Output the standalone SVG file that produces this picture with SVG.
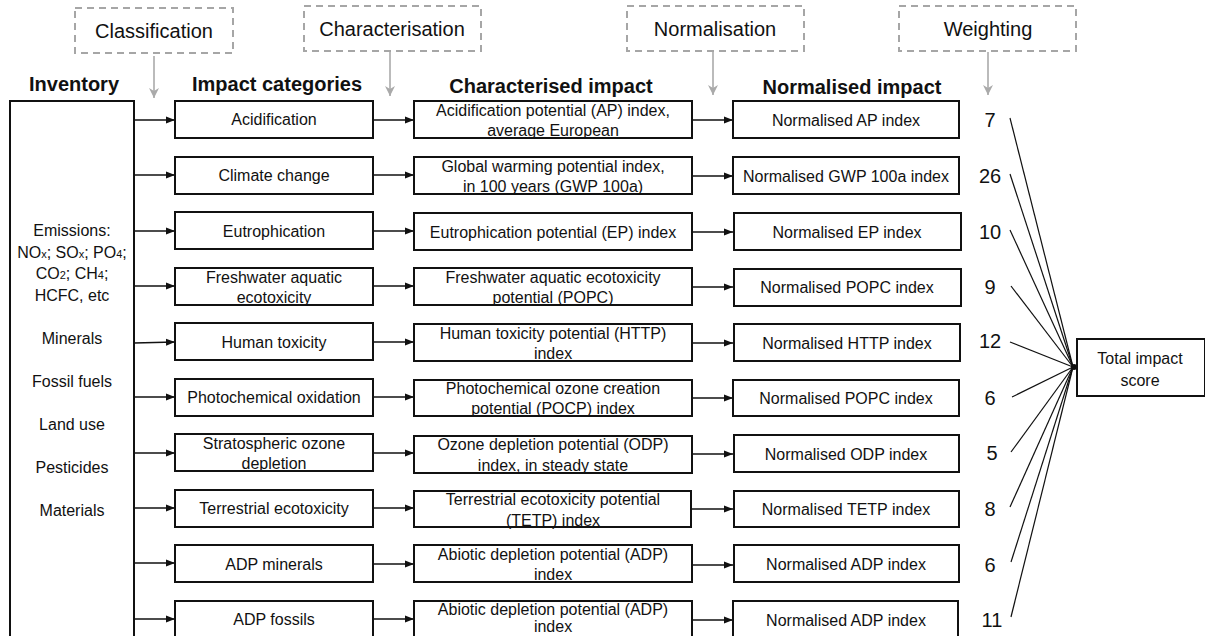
<svg xmlns="http://www.w3.org/2000/svg" width="1205" height="636" viewBox="0 0 1205 636">
<style>
text{font-family:"Liberation Sans",Arial,sans-serif;fill:#111;text-anchor:middle}
.t{font-size:16px}
.h{font-size:20px;font-weight:bold}
.s{font-size:20px}
.n{font-size:20px}
.box{fill:#fff;stroke:#111;stroke-width:2}
.dash{fill:none;stroke:#a6a6a6;stroke-width:2;stroke-dasharray:7 5}
.c{stroke:#111;stroke-width:1.4;fill:none}
.g{stroke:#aaa;stroke-width:1.6;fill:none}
.w{stroke:#111;stroke-width:1.2;fill:none}
</style>
<defs>
<marker id="ah" markerUnits="userSpaceOnUse" markerWidth="9" markerHeight="8" refX="9" refY="4" orient="auto"><path d="M0,0.5 L9,4 L0,7.5 z" fill="#111"/></marker>
<marker id="ag" markerUnits="userSpaceOnUse" markerWidth="10" markerHeight="10" refX="5" refY="10" orient="0"><path d="M0,0 L5,10 L10,0 L5,3 z" fill="#aaa"/></marker>
</defs>
<rect width="1205" height="636" fill="#fff"/>

<g id="steps">
<g id="classification"><rect class="dash" x="75" y="8" width="158" height="45"/><text class="s" x="154" y="38">Classification</text></g>
<g id="characterisation"><rect class="dash" x="304" y="6" width="177" height="45"/><text class="s" x="392" y="36">Characterisation</text></g>
<g id="normalisation"><rect class="dash" x="627" y="6" width="177" height="45"/><text class="s" x="715" y="36">Normalisation</text></g>
<g id="weighting"><rect class="dash" x="899" y="6" width="177" height="45"/><text class="s" x="988" y="36">Weighting</text></g>
</g>

<g id="headers">
<text class="h" x="74" y="91">Inventory</text>
<text class="h" x="277" y="91">Impact categories</text>
<text class="h" x="551" y="93">Characterised impact</text>
<text class="h" x="852" y="94">Normalised impact</text>
</g>

<g id="connectors">
<line class="g" x1="154" y1="56" x2="154" y2="98" marker-end="url(#ag)"/>
<line class="g" x1="390" y1="52" x2="390" y2="96" marker-end="url(#ag)"/>
<line class="g" x1="713" y1="52" x2="713" y2="95" marker-end="url(#ag)"/>
<line class="g" x1="988" y1="52" x2="988" y2="95" marker-end="url(#ag)"/>

<g id="inv-arrows">
<line class="c" x1="134" y1="120" x2="175" y2="120" marker-end="url(#ah)"/>
<line class="c" x1="134" y1="175" x2="175" y2="175" marker-end="url(#ah)"/>
<line class="c" x1="134" y1="231" x2="175" y2="231" marker-end="url(#ah)"/>
<line class="c" x1="134" y1="286" x2="175" y2="286" marker-end="url(#ah)"/>
<line class="c" x1="134" y1="343" x2="175" y2="342" marker-end="url(#ah)"/>
<line class="c" x1="134" y1="397" x2="175" y2="397" marker-end="url(#ah)"/>
<line class="c" x1="134" y1="453" x2="175" y2="453" marker-end="url(#ah)"/>
<line class="c" x1="134" y1="508" x2="175" y2="508" marker-end="url(#ah)"/>
<line class="c" x1="134" y1="563" x2="175" y2="563" marker-end="url(#ah)"/>
<line class="c" x1="134" y1="619" x2="175" y2="619" marker-end="url(#ah)"/>
</g>
<g id="cat-arrows">
<line class="c" x1="373" y1="120" x2="414" y2="120" marker-end="url(#ah)"/>
<line class="c" x1="373" y1="175" x2="414" y2="175" marker-end="url(#ah)"/>
<line class="c" x1="373" y1="231" x2="414" y2="231" marker-end="url(#ah)"/>
<line class="c" x1="373" y1="286" x2="414" y2="286" marker-end="url(#ah)"/>
<line class="c" x1="373" y1="342" x2="414" y2="342" marker-end="url(#ah)"/>
<line class="c" x1="373" y1="397" x2="414" y2="397" marker-end="url(#ah)"/>
<line class="c" x1="373" y1="453" x2="414" y2="453" marker-end="url(#ah)"/>
<line class="c" x1="373" y1="508" x2="414" y2="508" marker-end="url(#ah)"/>
<line class="c" x1="373" y1="564" x2="414" y2="564" marker-end="url(#ah)"/>
<line class="c" x1="373" y1="619" x2="414" y2="619" marker-end="url(#ah)"/>
</g>
<g id="char-arrows">
<line class="c" x1="692" y1="120" x2="733" y2="120" marker-end="url(#ah)"/>
<line class="c" x1="692" y1="176" x2="733" y2="176" marker-end="url(#ah)"/>
<line class="c" x1="692" y1="232" x2="733" y2="232" marker-end="url(#ah)"/>
<line class="c" x1="692" y1="287" x2="733" y2="287" marker-end="url(#ah)"/>
<line class="c" x1="692" y1="343" x2="733" y2="343" marker-end="url(#ah)"/>
<line class="c" x1="692" y1="398" x2="733" y2="398" marker-end="url(#ah)"/>
<line class="c" x1="692" y1="454" x2="733" y2="454" marker-end="url(#ah)"/>
<line class="c" x1="692" y1="509" x2="733" y2="509" marker-end="url(#ah)"/>
<line class="c" x1="692" y1="565" x2="733" y2="565" marker-end="url(#ah)"/>
<line class="c" x1="692" y1="620" x2="733" y2="620" marker-end="url(#ah)"/>
</g>
<g id="weight-lines">
<line class="w" x1="1010" y1="118" x2="1073" y2="367"/>
<line class="w" x1="1010" y1="174" x2="1073" y2="367"/>
<line class="w" x1="1010" y1="230" x2="1073" y2="367"/>
<line class="w" x1="1011" y1="286" x2="1073" y2="367"/>
<line class="w" x1="1010" y1="342" x2="1073" y2="367"/>
<line class="w" x1="1012" y1="397" x2="1073" y2="367"/>
<line class="w" x1="1011" y1="452" x2="1073" y2="367"/>
<line class="w" x1="1010" y1="507" x2="1073" y2="367"/>
<line class="w" x1="1011" y1="562" x2="1073" y2="367"/>
<line class="w" x1="1011" y1="617" x2="1073" y2="367"/>
<circle cx="1074" cy="367" r="3" fill="#111"/>
</g>
</g>

<g id="inventory">
<rect class="box" x="10" y="101" width="124" height="545"/>
<text class="t" x="72" y="236">Emissions:</text>
<text class="t" x="72" y="258">NO<tspan font-size="11">x</tspan>; SO<tspan font-size="11">x</tspan>; PO<tspan font-size="11">4</tspan>;</text>
<text class="t" x="72" y="279">CO<tspan font-size="11">2</tspan>; CH<tspan font-size="11">4</tspan>;</text>
<text class="t" x="72" y="301">HCFC, etc</text>
<text class="t" x="72" y="344">Minerals</text>
<text class="t" x="72" y="387">Fossil fuels</text>
<text class="t" x="72" y="430">Land use</text>
<text class="t" x="72" y="473">Pesticides</text>
<text class="t" x="72" y="516">Materials</text>
</g>

<g id="categories">
<g id="cat1"><rect class="box" x="175" y="101" width="198" height="37"/><text class="t" x="274" y="125">Acidification</text></g>
<g id="cat2"><rect class="box" x="175" y="157" width="198" height="37"/><text class="t" x="274" y="181">Climate change</text></g>
<g id="cat3"><rect class="box" x="175" y="212" width="198" height="37"/><text class="t" x="274" y="237">Eutrophication</text></g>
<g id="cat4"><rect class="box" x="175" y="268" width="198" height="37"/><text class="t" x="274" y="283">Freshwater aquatic</text><text class="t" x="274" y="303">ecotoxicity</text></g>
<g id="cat5"><rect class="box" x="175" y="323" width="198" height="37"/><text class="t" x="274" y="348">Human toxicity</text></g>
<g id="cat6"><rect class="box" x="175" y="379" width="198" height="37"/><text class="t" x="274" y="403">Photochemical oxidation</text></g>
<g id="cat7"><rect class="box" x="175" y="434" width="198" height="37"/><text class="t" x="274" y="449">Stratospheric ozone</text><text class="t" x="274" y="469">depletion</text></g>
<g id="cat8"><rect class="box" x="175" y="490" width="198" height="37"/><text class="t" x="274" y="514">Terrestrial ecotoxicity</text></g>
<g id="cat9"><rect class="box" x="175" y="545" width="198" height="37"/><text class="t" x="274" y="570">ADP minerals</text></g>
<g id="cat10"><rect class="box" x="175" y="601" width="198" height="37"/><text class="t" x="274" y="625">ADP fossils</text></g>
</g>

<g id="characterised">
<g id="char1"><rect class="box" x="414" y="101" width="278" height="37"/><text class="t" x="553" y="116">Acidification potential (AP) index,</text><text class="t" x="553" y="136">average European</text></g>
<g id="char2"><rect class="box" x="414" y="157" width="278" height="37"/><text class="t" x="553" y="172">Global warming potential index,</text><text class="t" x="553" y="192">in 100 years (GWP 100a)</text></g>
<g id="char3"><rect class="box" x="414" y="213" width="278" height="37"/><text class="t" x="553" y="238">Eutrophication potential (EP) index</text></g>
<g id="char4"><rect class="box" x="414" y="268" width="278" height="37"/><text class="t" x="553" y="283">Freshwater aquatic ecotoxicity</text><text class="t" x="553" y="303">potential (POPC)</text></g>
<g id="char5"><rect class="box" x="414" y="324" width="278" height="37"/><text class="t" x="553" y="339">Human toxicity potential (HTTP)</text><text class="t" x="553" y="359">index</text></g>
<g id="char6"><rect class="box" x="414" y="380" width="278" height="36"/><text class="t" x="553" y="394">Photochemical ozone creation</text><text class="t" x="553" y="414">potential (POCP) index</text></g>
<g id="char7"><rect class="box" x="414" y="436" width="278" height="37"/><text class="t" x="553" y="450">Ozone depletion potential (ODP)</text><text class="t" x="553" y="471">index, in steady state</text></g>
<g id="char8"><rect class="box" x="414" y="491" width="277" height="36"/><text class="t" x="553" y="505">Terrestrial ecotoxicity potential</text><text class="t" x="553" y="526">(TETP) index</text></g>
<g id="char9"><rect class="box" x="414" y="545" width="278" height="37"/><text class="t" x="553" y="560">Abiotic depletion potential (ADP)</text><text class="t" x="553" y="580">index</text></g>
<g id="char10"><rect class="box" x="414" y="601" width="278" height="37"/><text class="t" x="553" y="615">Abiotic depletion potential (ADP)</text><text class="t" x="553" y="632">index</text></g>
</g>

<g id="normalised">
<g id="norm1"><rect class="box" x="733" y="101" width="226" height="37"/><text class="t" x="846" y="126">Normalised AP index</text></g>
<g id="norm2"><rect class="box" x="733" y="157" width="226" height="37"/><text class="t" x="846" y="182">Normalised GWP 100a index</text></g>
<g id="norm3"><rect class="box" x="734" y="213" width="227" height="37"/><text class="t" x="847" y="238">Normalised EP index</text></g>
<g id="norm4"><rect class="box" x="734" y="269" width="227" height="37"/><text class="t" x="847" y="293">Normalised POPC index</text></g>
<g id="norm5"><rect class="box" x="734" y="324" width="226" height="37"/><text class="t" x="847" y="349">Normalised HTTP index</text></g>
<g id="norm6"><rect class="box" x="733" y="380" width="226" height="36"/><text class="t" x="846" y="404">Normalised POPC index</text></g>
<g id="norm7"><rect class="box" x="734" y="435" width="225" height="37"/><text class="t" x="846" y="460">Normalised ODP index</text></g>
<g id="norm8"><rect class="box" x="734" y="491" width="225" height="36"/><text class="t" x="846" y="515">Normalised TETP index</text></g>
<g id="norm9"><rect class="box" x="734" y="545" width="225" height="37"/><text class="t" x="846" y="570">Normalised ADP index</text></g>
<g id="norm10"><rect class="box" x="733" y="601" width="225" height="37"/><text class="t" x="846" y="626">Normalised ADP index</text></g>
</g>

<g id="weights">
<text class="n" x="990" y="127">7</text>
<text class="n" x="990" y="183">26</text>
<text class="n" x="990" y="239">10</text>
<text class="n" x="990" y="294">9</text>
<text class="n" x="990" y="348">12</text>
<text class="n" x="990" y="405">6</text>
<text class="n" x="992" y="460">5</text>
<text class="n" x="990" y="516">8</text>
<text class="n" x="990" y="572">6</text>
<text class="n" x="992" y="627">11</text>
</g>

<g id="total">
<rect class="box" x="1077" y="339" width="128" height="57"/>
<text class="t" x="1140" y="364">Total impact</text>
<text class="t" x="1140" y="386">score</text>
</g>
</svg>
